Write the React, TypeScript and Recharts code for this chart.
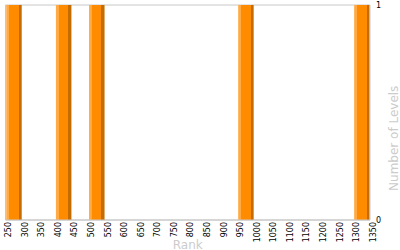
import React from "react";
import { BarChart, Bar, XAxis, YAxis, ReferenceLine, CartesianGrid } from "recharts";

const binStarts = [250, 400, 500, 950, 1300];
const levels = [1, 1, 1, 1, 1];
const binWidth = 50;
const xTicks = [250, 300, 350, 400, 450, 500, 550, 600, 650, 700, 750, 800, 850, 900, 950, 1000, 1050, 1100, 1150, 1200, 1250, 1300, 1350];
const yTicks = [0, 1];

const data = binStarts.map((s, i) => ({ rank: s + binWidth / 2, levels: levels[i] }));

const FONT = "'DejaVu Sans', Verdana, sans-serif";

const XLabel = (props: any) => {
  const vb = props.viewBox;
  return (
    <text x={vb.x + vb.width / 2} y={vb.y + vb.height - 1.5} textAnchor="middle" fontSize={12} fontFamily={FONT} fill="#cccccc">
      Rank
    </text>
  );
};

const YLabel = (props: any) => {
  const vb = props.viewBox;
  const cx = vb.x + vb.width - 2;
  const cy = vb.y + vb.height * 0.62;
  return (
    <g transform={`translate(${cx},${cy})`}>
      <g transform="rotate(-90)">
        <text x={0} y={0} textAnchor="middle" fontSize={12} fontFamily={FONT} fill="#cccccc">
          Number of Levels
        </text>
      </g>
    </g>
  );
};

export default function App() {
  return (
    <div style={{ position: "absolute", left: 0, top: 0, background: "#fff" }}>
      <BarChart width={400} height={250} data={data} margin={{ top: 5, right: 0, left: 5.5, bottom: 0 }}>
        <defs>
          <linearGradient id="barGrad" x1="0" y1="0" x2="1" y2="0">
            <stop offset="0%" stopColor="#FFAA44" />
            <stop offset="21%" stopColor="#FFAA44" />
            <stop offset="21%" stopColor="#FF8C00" />
            <stop offset="80%" stopColor="#FF8C00" />
            <stop offset="80%" stopColor="#C46C00" />
            <stop offset="100%" stopColor="#C46C00" />
          </linearGradient>
        </defs>
        <CartesianGrid vertical={false} stroke="#c8c8c8" strokeDasharray="" />
        <ReferenceLine x={250} stroke="#c8c8c8" />
        <XAxis
          dataKey="rank"
          type="number"
          domain={[250, 1350]}
          ticks={xTicks}
          interval={0}
          allowDataOverflow
          height={30}
          angle={-90}
          textAnchor="end"
          tick={{ fontSize: 8, fontFamily: FONT, fill: "#000", angle: -90, textAnchor: "end", verticalAnchor: "middle" } as any}
          tickSize={0}
          tickMargin={2}
          tickLine={false}
          axisLine={{ stroke: "#c8c8c8" }}
          label={<XLabel />}
        />
        <YAxis
          orientation="right"
          domain={[0, 1]}
          ticks={yTicks}
          width={30}
          tick={{ fontSize: 8, fontFamily: FONT, fill: "#000", textAnchor: "start" } as any}
          tickSize={0}
          tickMargin={6}
          tickLine={false}
          axisLine={{ stroke: "#c8c8c8" }}
          label={<YLabel />}
        />
        <Bar dataKey="levels" barSize={15.5} fill="url(#barGrad)" isAnimationActive={false} />
      </BarChart>
    </div>
  );
}
